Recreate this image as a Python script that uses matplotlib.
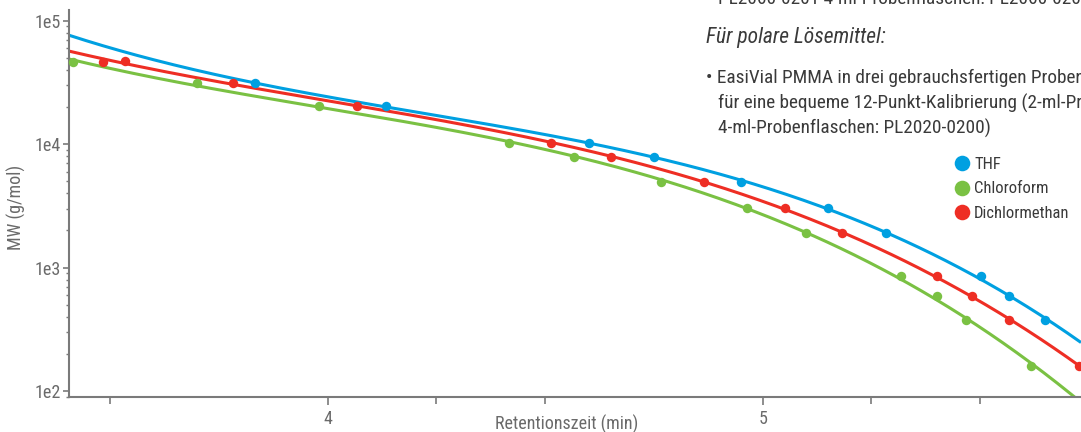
import numpy as np
import matplotlib.pyplot as plt
from matplotlib import font_manager
from matplotlib.ticker import FixedLocator, LogLocator, NullFormatter

# schmale Schrift waehlen, falls vorhanden
names = {f.name for f in font_manager.fontManager.ttflist}
if "Roboto Condensed" in names:
    plt.rcParams["font.family"] = ["Roboto Condensed", "DejaVu Sans"]
else:
    plt.rcParams["font.family"] = ["Roboto", "DejaVu Sans"]

# Retentionszeit (min) und MW (g/mol) der Kalibrierpunkte
thf_t = [3.833, 4.133, 4.600, 4.749, 4.949, 5.149, 5.283, 5.502, 5.567, 5.649]
thf_mw = [31000, 20400, 10300, 7820, 4920, 3015, 1920, 853, 588, 376]

chl_t = [3.415, 3.699, 3.981, 4.417, 4.567, 4.766, 4.965, 5.099, 5.317, 5.400,
         5.467, 5.617]
chl_mw = [46600, 31000, 20400, 10300, 7820, 4920, 3015, 1920, 853, 588, 376,
          161]

dcm_t = [3.483, 3.534, 3.782, 4.067, 4.513, 4.651, 4.865, 5.051, 5.182, 5.400,
         5.482, 5.566, 5.726]
dcm_mw = [46400, 47500, 31000, 20400, 10300, 7820, 4920, 3015, 1920, 853, 588,
          376, 161]

series = [
    ("THF", thf_t, thf_mw, "#00a0e1"),
    ("Chloroform", chl_t, chl_mw, "#7ac143"),
    ("Dichlormethan", dcm_t, dcm_mw, "#ee2e24"),
]

x_min, x_max = 3.4053, 5.7317
axis_grey = "#7a7a7a"
text_grey = "#6a6a6a"

fig = plt.figure(figsize=(10.81, 4.32), dpi=100)
ax = fig.add_axes([0.0638, 0.0803, 0.9362, 0.8965])

# Kalibrierkurven: Polynom 3. Grades in log(MW)
tt = np.linspace(x_min, x_max, 300)
for name, t, mw, color in series:
    coef = np.polyfit(t, np.log10(mw), 3)
    ax.plot(tt, 10 ** np.polyval(coef, tt), color=color, linewidth=2.2,
            solid_capstyle="butt", zorder=2)
    ax.plot(t, mw, "o", color=color, markersize=6.8, markeredgewidth=0,
            label=name, zorder=3, clip_on=False)

ax.set_yscale("log")
ax.set_xlim(x_min, x_max)
ax.set_ylim(89, 1.22e5)

ax.set_yticks([1e2, 1e3, 1e4, 1e5])
ax.set_yticklabels(["1e2", "1e3", "1e4", "1e5"])
ax.yaxis.set_minor_locator(LogLocator(base=10, subs=np.arange(2, 10)))
ax.yaxis.set_minor_formatter(NullFormatter())

ax.set_xticks([4, 5])
ax.set_xticklabels(["4", "5"])
ax.xaxis.set_minor_locator(FixedLocator([3.5, 4.25, 4.5, 5.25, 5.5]))

for side in ["top", "right"]:
    ax.spines[side].set_visible(False)
for side in ["left", "bottom"]:
    ax.spines[side].set_color(axis_grey)
    ax.spines[side].set_linewidth(1.5)

ax.tick_params(axis="both", which="both", colors=axis_grey, direction="out",
               labelcolor=text_grey, labelsize=13)
ax.tick_params(axis="x", which="major", length=6, width=1.2, pad=3)
ax.tick_params(axis="x", which="minor", length=5, width=1.2)
ax.tick_params(axis="y", which="major", length=4, width=1.2, pad=2)
ax.tick_params(axis="y", which="minor", length=2.5, width=1.0)

ax.set_xlabel("Retentionszeit (min)", fontsize=13, color=text_grey)
ax.set_ylabel("MW (g/mol)", fontsize=13, color=text_grey)
ax.xaxis.set_label_coords(0.492, -0.045)
ax.yaxis.set_label_coords(-0.042, 0.49)

leg = ax.legend(loc="upper left", bbox_to_anchor=(0.8656, 0.637), frameon=False,
                fontsize=12, markerscale=1.65, handletextpad=0.15,
                labelspacing=0.55, borderaxespad=0, handlelength=1.2)
for txt in leg.get_texts():
    txt.set_color("#3a3a3a")

# Fliesstext der Broschuere rechts oben (angeschnitten)
body = "#3a3a3a"
fig.text(0.664, 1 - 5 / 432, "PL2060-0201 4-ml-Probenflaschen: PL2060-0200)",
         fontsize=13.9, color=body, va="baseline")
fig.text(0.653, 1 - 43 / 432, "Für polare Lösemittel:", fontsize=15.5,
         color=body, style="italic", va="baseline")
fig.text(0.653, 1 - 83 / 432,
         "• EasiVial PMMA in drei gebrauchsfertigen Probenflaschen",
         fontsize=13.9, color=body, va="baseline")
fig.text(0.664, 1 - 109 / 432,
         "für eine bequeme 12-Punkt-Kalibrierung (2-ml-Probenflaschen: PL2020-0201",
         fontsize=13.9, color=body, va="baseline")
fig.text(0.664, 1 - 134 / 432, "4-ml-Probenflaschen: PL2020-0200)",
         fontsize=13.9, color=body, va="baseline")

fig.savefig("out.png", dpi=100)
